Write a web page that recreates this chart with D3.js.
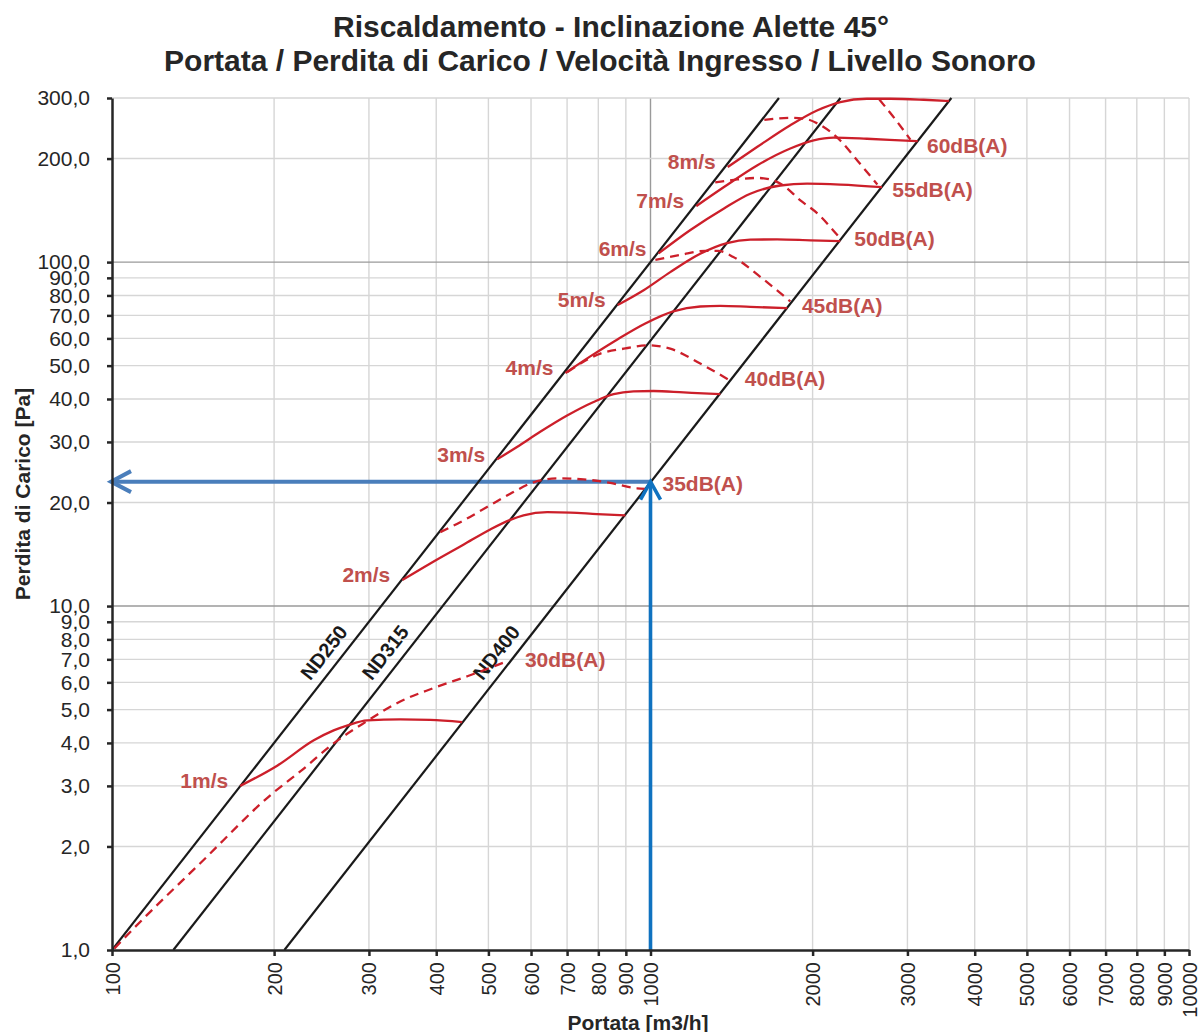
<!DOCTYPE html>
<html>
<head>
<meta charset="utf-8">
<script src="https://d3js.org/d3.v7.min.js"></script>
<style>
  body { margin: 0; background: #fff; }
  svg { font-family: "Liberation Sans", Arial, sans-serif; }
</style>
</head>
<body>
<svg class="chart" width="1198" height="1032"></svg>
<script>

// tick values of both log axes
var flowTicks = [100, 200, 300, 400, 500, 600, 700, 800, 900,
                 1000, 2000, 3000, 4000, 5000, 6000, 7000, 8000, 9000, 10000];
var lossTicks = [1, 2, 3, 4, 5, 6, 7, 8, 9,
                 10, 20, 30, 40, 50, 60, 70, 80, 90, 100, 200, 300];

// duct lines: flow [m3/h] at 1 Pa and at 300 Pa
var ductNames = ["ND250", "ND315", "ND400"];
var ductFlowLow = [100, 130, 209];
var ductFlowHigh = [1732, 2253, 3620];

// inlet velocity curves (solid)
var speedNames = ["1m/s", "2m/s", "3m/s", "4m/s", "5m/s", "6m/s", "7m/s", "8m/s"];
var speedFlow = [
    [173, 203, 237, 258, 274, 298, 343, 390, 447],
    [346, 390, 450, 504, 549, 581, 643, 710, 796, 898],
    [519, 565, 624, 700, 784, 854, 930, 1013, 1152, 1348],
    [695, 773, 868, 978, 1102, 1237, 1348, 1532, 1795],
    [869, 971, 1088, 1237, 1387, 1532, 1718, 1981, 2251],
    [1035, 1186, 1367, 1532, 1742, 1953, 2251, 2691],
    [1216, 1367, 1577, 1818, 2009, 2188, 2523, 2910, 3135],
    [1391, 1577, 1818, 2038, 2251, 2523, 2788, 3215, 3583]
];
var speedLoss = [
    [3.0, 3.44, 4.07, 4.35, 4.5, 4.65, 4.68, 4.67, 4.6],
    [11.9, 13.3, 15.1, 16.7, 17.8, 18.35, 18.75, 18.7, 18.5, 18.35],
    [26.7, 29.0, 32.1, 35.8, 39.2, 41.3, 42.1, 42.2, 41.8, 41.3],
    [47.6, 53.2, 59.6, 66.3, 71.9, 74.3, 74.6, 74.1, 73.5],
    [75, 82.8, 93.5, 105.8, 113.6, 116.2, 116.4, 115.7, 115.1],
    [106, 124, 143, 158, 167, 169, 168, 165.2],
    [145.5, 165, 191, 214, 226, 230, 228.4, 226, 224.7],
    [189, 216, 250, 276, 292, 298.5, 298.5, 296.5, 294]
];

// sound level curves (dashed)
var soundNames = ["30dB(A)", "35dB(A)", "40dB(A)", "45dB(A)", "50dB(A)", "55dB(A)", "60dB(A)"];
var soundFlow = [
    [101, 110, 146, 199, 224, 258, 295, 343, 395, 457, 542],
    [407, 450, 497, 549, 598, 671, 751, 842, 944, 978],
    [701, 807, 898, 985, 1088, 1237, 1407],
    [1021, 1136, 1264, 1336, 1425, 1599, 1818],
    [1319, 1449, 1579, 1669, 1764, 1898, 2041, 2185, 2251],
    [1627, 1818, 1939, 2041, 2251, 2421, 2638],
    [2660, 2849, 3038]
];
var soundLoss = [
    [1.01, 1.16, 1.79, 2.86, 3.31, 3.99, 4.59, 5.28, 5.77, 6.25, 6.91],
    [16.4, 17.75, 19.4, 21.2, 22.7, 23.5, 23.35, 22.8, 22.0, 21.9],
    [47.9, 54.2, 56.1, 57.3, 56.0, 50.7, 45.2],
    [101.5, 104.9, 107.8, 107.8, 103.5, 90.6, 76.9],
    [170.5, 173.9, 175.7, 173.9, 167.1, 151.1, 138.6, 123.6, 117.2],
    [259, 262.6, 260.8, 253.1, 225.8, 197.5, 168.2],
    [297, 260, 227]
];
// pressure where each dB label sits next to the ND400 line
var soundLabelLoss = [7.0, 22.7, 45.9, 74.8, 117, 162, 218];

// example reading (blue arrows)
var readFlow = 1000,
    readLoss = 23;

var titleLines = ["Riscaldamento - Inclinazione Alette 45°",
                  "Portata / Perdita di Carico / Velocità Ingresso / Livello Sonoro"];

var red = "#cc1f2a",
    labelRed = "#c0504d",
    ink = "#262626";

drawChart();

function drawChart() {

    var margin = {top: 98, right: 9, bottom: 82, left: 112},
        width = 1198 - margin.left - margin.right,
        height = 1032 - margin.top - margin.bottom;

    var svg = d3.select(".chart");

    var x = d3.scaleLog()
        .domain([100, 10000])
        .range([margin.left, margin.left + width]);

    var y = d3.scaleLog()
        .domain([1, 300])
        .range([margin.top + height, margin.top]);

    svg.append("defs").append("clipPath")
        .attr("id", "plot")
      .append("rect")
        .attr("x", margin.left)
        .attr("y", margin.top - 2)
        .attr("width", width)
        .attr("height", height + 2);

    drawTitle(svg);
    drawGrid(svg, x, y);
    drawArrows(svg, x, y);
    drawDucts(svg, x, y);
    drawCurves(svg, x, y);
    drawAxes(svg, x, y, margin, height);
}

function drawTitle(svg) {

    svg.append("text")
        .attr("x", 611)
        .attr("y", 37)
        .attr("text-anchor", "middle")
        .style("font-size", "30px")
        .style("font-weight", "bold")
        .style("fill", ink)
        .text(titleLines[0]);

    svg.append("text")
        .attr("x", 600)
        .attr("y", 71)
        .attr("text-anchor", "middle")
        .style("font-size", "30px")
        .style("font-weight", "bold")
        .style("fill", ink)
        .text(titleLines[1]);
}

// gridlines, decades a bit darker
function drawGrid(svg, x, y) {

    var grid = svg.append("g").attr("class", "grid");

    grid.selectAll(".vline")
        .data(flowTicks.slice(1)).enter()
        .append("line")
        .attr("x1", function(d) { return x(d); })
        .attr("x2", function(d) { return x(d); })
        .attr("y1", y(1))
        .attr("y2", y(300))
        .attr("stroke", function(d) { return d === 1000 ? "#9a9a9a" : "#d6d6d6"; })
        .attr("stroke-width", 1.4);

    grid.selectAll(".hline")
        .data(lossTicks.slice(1)).enter()
        .append("line")
        .attr("x1", x(100))
        .attr("x2", x(10000))
        .attr("y1", function(d) { return y(d); })
        .attr("y2", function(d) { return y(d); })
        .attr("stroke", function(d) { return (d === 10 || d === 100) ? "#9a9a9a" : "#d6d6d6"; })
        .attr("stroke-width", 1.4);
}

function drawArrows(svg, x, y) {

    var tipX = x(100) - 1,
        tipY = y(readLoss),
        px = x(readFlow);

    // horizontal arrow to the pressure axis
    svg.append("line")
        .attr("x1", px)
        .attr("x2", tipX + 2)
        .attr("y1", tipY)
        .attr("y2", tipY)
        .attr("stroke", "#4a7ebb")
        .attr("stroke-width", 4);

    svg.append("path")
        .attr("d", "M" + (tipX + 20) + "," + (tipY - 10.5) + "L" + tipX + "," + tipY +
                   "L" + (tipX + 20) + "," + (tipY + 10.5))
        .attr("fill", "none")
        .attr("stroke", "#4a7ebb")
        .attr("stroke-width", 4);
}

function drawVerticalArrow(svg, x, y) {

    var px = x(readFlow),
        tipY = y(readLoss);

    svg.append("line")
        .attr("x1", px)
        .attr("x2", px)
        .attr("y1", y(1))
        .attr("y2", tipY + 2)
        .attr("stroke", "#0f72c0")
        .attr("stroke-width", 3.6);

    svg.append("path")
        .attr("d", "M" + (px - 10) + "," + (tipY + 18) + "L" + px + "," + tipY +
                   "L" + (px + 10) + "," + (tipY + 18))
        .attr("fill", "none")
        .attr("stroke", "#0f72c0")
        .attr("stroke-width", 3.6);
}

// black duct lines with rotated names
function drawDucts(svg, x, y) {

    var ducts = svg.append("g").attr("clip-path", "url(#plot)");

    ducts.selectAll("line")
        .data(ductNames).enter()
        .append("line")
        .attr("x1", function(d, i) { return x(ductFlowLow[i]); })
        .attr("y1", y(1))
        .attr("x2", function(d, i) { return x(ductFlowHigh[i]); })
        .attr("y2", y(300))
        .attr("stroke", "#1a1a1a")
        .attr("stroke-width", 2.2);

    var labelLoss = 7.33;

    svg.selectAll(".ductlabel")
        .data(ductNames).enter()
        .append("text")
        .attr("class", "ductlabel")
        .attr("transform", function(d, i) {
            var q = ductFlowLow[i] * Math.sqrt(labelLoss);
            return "translate(" + (x(q) - 21) + "," + y(labelLoss) + ") rotate(-52)";
        })
        .attr("text-anchor", "middle")
        .attr("dy", "0.35em")
        .style("font-size", "20px")
        .style("font-weight", "bold")
        .style("fill", "#1a1a1a")
        .text(function(d) { return d; });
}

function drawCurves(svg, x, y) {

    var line = d3.line()
        .x(function(d) { return x(d[0]); })
        .y(function(d) { return y(d[1]); })
        .curve(d3.curveMonotoneX);

    var curves = svg.append("g").attr("clip-path", "url(#plot)");

    // sound level, dashed
    curves.selectAll(".sound")
        .data(soundNames).enter()
        .append("path")
        .attr("class", "sound")
        .attr("d", function(d, i) { return line(d3.zip(soundFlow[i], soundLoss[i])); })
        .attr("fill", "none")
        .attr("stroke", red)
        .attr("stroke-width", 2.3)
        .attr("stroke-dasharray", "9,6");

    // inlet velocity, solid
    curves.selectAll(".speed")
        .data(speedNames).enter()
        .append("path")
        .attr("class", "speed")
        .attr("d", function(d, i) { return line(d3.zip(speedFlow[i], speedLoss[i])); })
        .attr("fill", "none")
        .attr("stroke", red)
        .attr("stroke-width", 2.3);

    drawVerticalArrow(svg, x, y);

    // velocity labels left of where each curve starts
    svg.selectAll(".speedlabel")
        .data(speedNames).enter()
        .append("text")
        .attr("x", function(d, i) { return x(speedFlow[i][0]) - 12; })
        .attr("y", function(d, i) { return y(speedLoss[i][0]) - 5; })
        .attr("dy", "0.35em")
        .attr("text-anchor", "end")
        .style("font-size", "21px")
        .style("font-weight", "bold")
        .style("fill", labelRed)
        .text(function(d) { return d; });

    // sound labels right of the ND400 line
    svg.selectAll(".soundlabel")
        .data(soundNames).enter()
        .append("text")
        .attr("x", function(d, i) { return x(ductFlowLow[2] * Math.sqrt(soundLabelLoss[i])) + 13; })
        .attr("y", function(d, i) { return y(soundLabelLoss[i]); })
        .attr("dy", "0.35em")
        .style("font-size", "21px")
        .style("font-weight", "bold")
        .style("fill", labelRed)
        .text(function(d) { return d; });
}

function drawAxes(svg, x, y, margin, height) {

    var comma = function(d) { return d.toFixed(1).replace(".", ","); };

    var yAxis = svg.append("g")
        .attr("class", "y axis")
        .attr("transform", "translate(" + margin.left + ",0)")
        .call(d3.axisLeft(y)
            .tickValues(lossTicks)
            .tickFormat(comma)
            .tickSize(5)
            .tickSizeOuter(0)
            .tickPadding(17));

    var xAxis = svg.append("g")
        .attr("class", "x axis")
        .attr("transform", "translate(0," + (margin.top + height) + ")")
        .call(d3.axisBottom(x)
            .tickValues(flowTicks)
            .tickFormat(d3.format("d"))
            .tickSize(6)
            .tickSizeOuter(0));

    xAxis.selectAll("text")
        .attr("transform", "rotate(-90)")
        .attr("x", -12)
        .attr("y", 0)
        .attr("dy", "0.35em")
        .style("text-anchor", "end");

    svg.selectAll(".axis path, .axis line")
        .attr("stroke", ink)
        .attr("stroke-width", 2.5);

    svg.selectAll(".axis text")
        .style("font-family", "'Liberation Sans', Arial, sans-serif")
        .style("fill", ink);

    yAxis.selectAll("text").style("font-size", "21px");
    xAxis.selectAll("text").style("font-size", "20px");

    // axis titles
    svg.append("text")
        .attr("transform", "translate(23," + 494 + ") rotate(-90)")
        .attr("text-anchor", "middle")
        .attr("dy", "0.35em")
        .style("font-size", "21px")
        .style("font-weight", "bold")
        .style("fill", ink)
        .text("Perdita di Carico [Pa]");

    svg.append("text")
        .attr("x", 638)
        .attr("y", 1030)
        .attr("text-anchor", "middle")
        .style("font-size", "21px")
        .style("font-weight", "bold")
        .style("fill", ink)
        .text("Portata [m3/h]");
}
</script>
</body>
</html>
